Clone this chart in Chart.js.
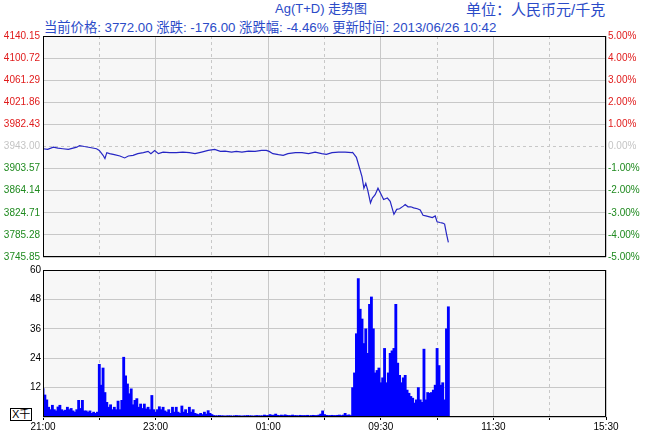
<!DOCTYPE html>
<html>
<head>
<meta charset="utf-8">
<script src="https://cdn.jsdelivr.net/npm/chart.js@4"></script>
<style>
body { margin: 0; background: #fff; width: 646px; height: 431px; position: relative; overflow: hidden;
  font-family: "Liberation Sans", Arial, "Noto Sans CJK SC", sans-serif; }
.hd { position: absolute; white-space: nowrap; color: #2b4bc8; font-size: 13px; line-height: 15px; }
#top { position: absolute; left: 0; top: 0; }
#vol { position: absolute; left: 0; top: 262px; }
#unitBox { position: absolute; left: 10px; top: 408px; border: 1px solid #000; font-size: 11px; line-height: 11px;
  padding: 0 1px; color: #000; background: #fff; }
</style>
</head>
<body>
<div class="hd" style="left:275px;top:1px">Ag(T+D) 走势图</div>
<div class="hd" style="left:466px;top:2px;font-size:15px">单位：人民币元/千克</div>
<div class="hd" style="left:44px;top:20px;font-size:13.3px">当前价格: 3772.00 涨跌: -176.00 涨跌幅: -4.46% 更新时间: 2013/06/26 10:42</div>
<canvas id="top" width="646" height="266"></canvas>
<canvas id="vol" width="646" height="169"></canvas>
<div id="unitBox">X千</div>
<script>
// trading minutes since 21:00 (night 21:00-02:30, day 09:00-11:30, 13:30-15:30)
const timeLabels = ['21:00', '', '23:00', '', '01:00', '', '09:30', '', '11:30', '', '15:30'];
const baseClose = 3943.00;
const priceTicks = [3745.85, 3785.28, 3824.71, 3864.14, 3903.57, 3943.00, 3982.43, 4021.86, 4061.29, 4100.72, 4140.15];
const pctTicks = [-5, -4, -3, -2, -1, 0, 1, 2, 3, 4, 5];
const volTicks = [0, 12, 24, 36, 48, 60];

const priceMinutes = [0, 5, 11, 16, 21, 27, 32, 36, 39, 44, 50, 57, 60, 64, 66, 68, 71, 76, 82, 87, 91, 96, 101, 107, 112, 115,
  119, 123, 128, 135, 142, 149, 156, 162, 169, 176, 183, 189, 194, 201, 206, 212, 219, 226, 233, 238, 241, 245, 251, 256,
  261, 269, 276, 283, 290, 297, 302, 308, 315, 322, 329,
  330, 334, 338, 340, 342, 344, 346, 349, 351, 354, 357, 360, 363, 367, 370, 373, 374, 377, 380, 384, 386, 389, 392, 395,
  399, 402, 405, 408, 411, 415, 418, 420, 423, 426, 428, 430, 432];
const priceValues = [3939.0, 3937.8, 3941.8, 3940.0, 3939.0, 3937.8, 3940.0, 3941.8, 3944.7, 3943.0, 3941.2, 3939.0, 3936.0,
  3927.3, 3921.5, 3932.0, 3930.2, 3928.5, 3926.0, 3922.6, 3926.0, 3927.3, 3930.2, 3932.0, 3934.3, 3930.2,
  3936.0, 3930.2, 3933.0, 3932.0, 3932.0, 3933.0, 3932.0, 3930.2, 3933.0, 3936.0, 3937.8, 3934.3, 3934.8, 3933.0, 3934.3,
  3933.0, 3934.8, 3934.3, 3936.0, 3936.0, 3934.3, 3930.2, 3928.5, 3927.3, 3930.2, 3932.0, 3932.0, 3930.2, 3933.0, 3930.2,
  3929.0, 3932.0, 3933.0, 3933.0, 3932.0,
  3932.5, 3923.8, 3900.6, 3888.9, 3868.5, 3877.2, 3865.7, 3842.3, 3851.0, 3856.9, 3868.5, 3858.7, 3848.3, 3851.0, 3845.3,
  3827.8, 3822.0, 3830.8, 3831.9, 3836.6, 3839.5, 3835.4, 3835.4, 3833.6, 3831.9, 3829.6, 3820.3, 3819.1, 3818.0, 3816.2,
  3819.1, 3808.6, 3807.4, 3806.4, 3804.6, 3787.2, 3772.0];

// volume (thousands), 2-minute bins
const nightVolume = [11.6, 9, 7, 4, 3, 4.8, 3, 2.5, 4.1, 4.8,
  3, 2.5, 2.8, 4, 3, 3.5, 2.5, 2, 3, 6.8,
  3.5, 6.8, 2.5, 2.5, 2, 2.5, 1.5, 2, 1.5, 2,
  21.5, 13, 20, 10, 6, 4, 5, 3, 4, 3,
  6.5, 3, 6.8, 24.4, 16.8, 13.5, 9.5, 11.5, 5, 6.8,
  7.5, 4, 5.3, 3.5, 5.3, 3.3, 4, 3, 8.8, 3,
  2, 3, 4.2, 3, 4, 2.5, 2, 3, 1.5, 4,
  2, 4, 2, 1.5, 4.5, 2, 3, 1.5, 4, 2,
  3, 1.5, 1.2, 1, 1.5, 1, 2, 1.2, 2.6, 1.5,
  1, 0.6, 0.5, 0.5, 0.6, 0.5, 0.5, 0.4, 0.5, 0.5,
  0.5, 0.4, 0.5, 0.6, 0.5, 0.5, 0.4, 0.5, 0.5, 0.6,
  0.5, 0.5, 0.4, 0.5, 0.6, 0.5, 0.5, 0.5, 0.8, 0.6,
  0.6, 1, 0.7, 0.8, 1.2, 0.7, 0.6, 0.8, 0.6, 0.9,
  0.7, 0.6, 0.6, 0.8, 0.6, 0.6, 0.5, 0.7, 0.6, 0.6,
  0.6, 0.7, 0.5, 0.6, 0.7, 0.6, 0.6, 0.8, 1.2, 2.5,
  1, 0.7, 0.6, 0.6, 0.7, 0.6, 0.6, 0.7, 0.8, 0.6,
  0.8, 1.5, 0.7, 0.9, 0.6];
const dayVolume = [12, 18, 34, 56.5, 44, 40, 30, 36, 26, 46,
  49, 36, 18, 19, 20, 14, 16, 28, 14, 18,
  26, 27, 28, 46, 22, 17, 14, 16, 17, 11,
  9.7, 8.4, 7.7, 5.7, 7, 12, 7, 6, 27.7, 7,
  10, 9.7, 10, 11, 13, 28, 21, 13, 14, 7,
  36, 45];
const daySessionStart = 330;

const red = '#e01b1b', green = '#1f8a1f', grey = '#c4c4c4', gridCol = '#c8c8c8';
const tickFont = { family: 'Liberation Sans', size: 10 };
const hourTicks = timeLabels.map((t, i) => i * 60);

const plotFrame = {
  id: 'plotFrame',
  beforeDraw(chart) {
    const { ctx, chartArea: a } = chart;
    ctx.save();
    ctx.fillStyle = '#f7f7f7';
    ctx.fillRect(a.left, a.top, a.width, a.height);
    ctx.restore();
  },
  afterDraw(chart) {
    const { ctx, chartArea: a } = chart;
    ctx.save();
    ctx.strokeStyle = '#000';
    ctx.lineWidth = 1;
    ctx.strokeRect(a.left + 0.5, a.top + 0.5, a.width - 1, a.height - 1);
    ctx.restore();
  }
};

// even hours solid, odd hours dashed
const xDash = (c) => (c.tick && (c.index % 2 === 1) ? [3, 3] : []);

function xScale(showLabels) {
  return {
    type: 'linear', min: 0, max: 600, offset: false,
    afterBuildTicks: (s) => { s.ticks = hourTicks.map(v => ({ value: v })); },
    afterFit: (s) => { s.height = showLabels ? 14 : 0; },
    ticks: { display: showLabels, autoSkip: false, maxRotation: 0, padding: 1, color: '#000', font: tickFont,
      callback: (v, i) => timeLabels[i] },
    grid: { offset: false, color: gridCol, drawTicks: showLabels, tickLength: 3, tickColor: '#000',
      borderDash: xDash },
    border: { display: false, dash: xDash }
  };
}

new Chart(document.getElementById('top'), {
  type: 'line',
  data: {
    datasets: [{
      data: priceMinutes.map((m, i) => ({ x: m, y: priceValues[i] })),
      borderColor: '#2626c4',
      borderWidth: 1.2,
      pointRadius: 0,
      tension: 0,
      yAxisID: 'y'
    }]
  },
  options: {
    responsive: false,
    animation: false,
    layout: { autoPadding: false, padding: { top: 36, bottom: 4, left: 0, right: 0 } },
    plugins: { legend: { display: false }, tooltip: { enabled: false } },
    scales: {
      x: xScale(false),
      y: {
        position: 'left', min: priceTicks[0], max: priceTicks[priceTicks.length - 1],
        afterBuildTicks: (s) => { s.ticks = priceTicks.map(v => ({ value: v })); },
        afterFit: (s) => { s.width = 43; },
        ticks: {
          padding: 3, font: tickFont,
          color: (c) => (c.index > 5 ? red : (c.index === 5 ? grey : green)),
          callback: (v) => v.toFixed(2)
        },
        grid: { color: gridCol, drawTicks: false, borderDash: (c) => (c.tick && c.index === 5 ? [3, 3] : []) },
        border: { display: false, dash: (c) => (c.tick && c.index === 5 ? [3, 3] : []) }
      },
      yp: {
        position: 'right', min: -5, max: 5,
        afterBuildTicks: (s) => { s.ticks = pctTicks.map(v => ({ value: v })); },
        afterFit: (s) => { s.width = 40; },
        ticks: {
          padding: 2, font: tickFont,
          color: (c) => (c.index > 5 ? red : (c.index === 5 ? grey : green)),
          callback: (v) => v.toFixed(2) + '%'
        },
        grid: { drawOnChartArea: false, drawTicks: false },
        border: { display: false }
      }
    }
  },
  plugins: [plotFrame]
});

const volumePoints = nightVolume.map((v, i) => ({ x: i * 2, y: v }))
  .concat(dayVolume.map((v, j) => ({ x: daySessionStart + j * 2, y: v })));

new Chart(document.getElementById('vol'), {
  type: 'bar',
  data: {
    datasets: [{
      data: volumePoints,
      backgroundColor: '#0000ff',
      borderWidth: 0,
      barThickness: 2.2
    }]
  },
  options: {
    responsive: false,
    animation: false,
    layout: { autoPadding: false, padding: { top: 5, bottom: 0, left: 0, right: 40 } },
    plugins: { legend: { display: false }, tooltip: { enabled: false } },
    scales: {
      x: xScale(true),
      y: {
        min: 0, max: 60,
        afterBuildTicks: (s) => { s.ticks = volTicks.map(v => ({ value: v })); },
        afterFit: (s) => { s.width = 43; },
        ticks: { padding: 2, font: tickFont, color: '#000', callback: (v) => (v === 0 ? '' : v) },
        grid: { color: gridCol, drawTicks: false },
        border: { display: false }
      }
    }
  },
  plugins: [plotFrame]
});
</script>
</body>
</html>
